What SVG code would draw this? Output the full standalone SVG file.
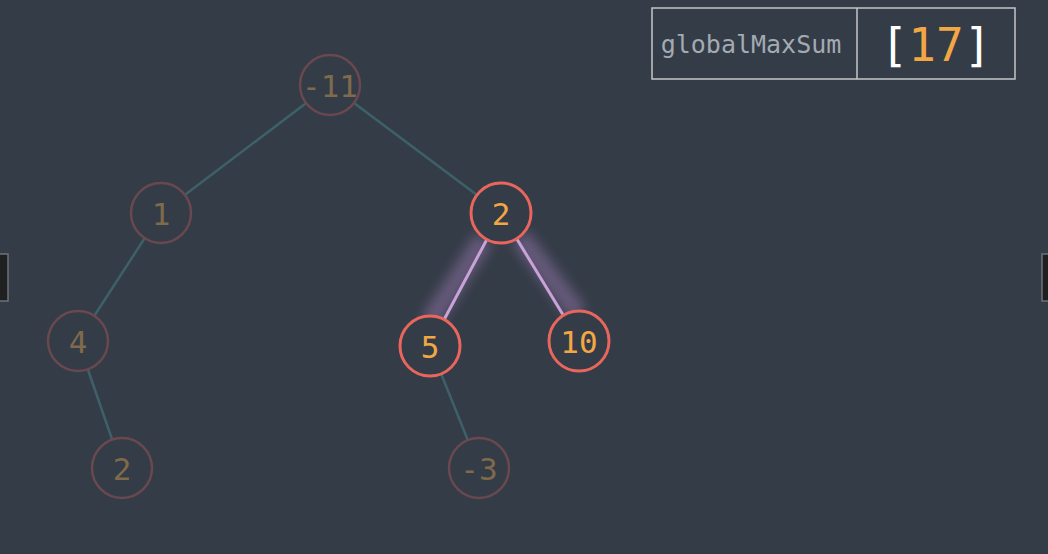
<svg xmlns="http://www.w3.org/2000/svg" width="1048" height="554" viewBox="0 0 1048 554">
<style>
.edge{stroke:#3d6169;stroke-width:2.5;fill:none}
.hl{stroke:#c9a2d8;stroke-width:3;fill:none}
.glow{stroke:#9f7cb8;stroke-width:20;fill:none;opacity:0.45}
.fn circle{fill:#343c47;stroke:#6a4850;stroke-width:2.5}
.fn text{fill:#7f6a4c}
.an circle{fill:#343c47;stroke:#e8665c;stroke-width:3}
.an text{fill:#f3a744}
text{font-family:"DejaVu Sans Mono","Liberation Mono",monospace;text-anchor:middle;dominant-baseline:central}
.nt{font-size:31px}
</style>
<defs>
<filter id="blur" x="-50%" y="-50%" width="200%" height="200%"><feGaussianBlur stdDeviation="6"/></filter>
</defs>
<rect width="1048" height="554" fill="#343c47"/>
<rect x="-4" y="254" width="12" height="47" fill="#1f2022" stroke="#6d7277" stroke-width="1.5"/>
<rect x="1042" y="254" width="12" height="47" fill="#1f2022" stroke="#6d7277" stroke-width="1.5"/>
<g id="connectors">
<line class="edge" x1="330" y1="85" x2="161" y2="213"/>
<line class="edge" x1="330" y1="85" x2="501" y2="213"/>
<line class="edge" x1="161" y1="213" x2="78" y2="341"/>
<line class="edge" x1="78" y1="341" x2="122" y2="468"/>
<line class="edge" x1="430" y1="346" x2="479" y2="468"/>
<g filter="url(#blur)">
<line class="glow" x1="484" y1="239" x2="430" y2="322"/>
<line class="glow" x1="520" y1="237" x2="578" y2="314"/>
</g>
<line class="hl" x1="501" y1="213" x2="430" y2="346"/>
<line class="hl" x1="501" y1="213" x2="579" y2="341"/>
</g>
<g id="n-11" class="fn"><circle cx="330" cy="85" r="30"/><text class="nt" x="330" y="86">-11</text></g>
<g id="n1" class="fn"><circle cx="161" cy="213" r="30"/><text class="nt" x="161" y="214">1</text></g>
<g id="n2" class="an"><circle cx="501" cy="213" r="30"/><text class="nt" x="501" y="214">2</text></g>
<g id="n4" class="fn"><circle cx="78" cy="341" r="30"/><text class="nt" x="78" y="342">4</text></g>
<g id="n5" class="an"><circle cx="430" cy="346" r="30"/><text class="nt" x="430" y="347">5</text></g>
<g id="n10" class="an"><circle cx="579" cy="341" r="30"/><text class="nt" x="579" y="342">10</text></g>
<g id="n2b" class="fn"><circle cx="122" cy="468" r="30"/><text class="nt" x="122" y="469">2</text></g>
<g id="n-3" class="fn"><circle cx="479" cy="468" r="30"/><text class="nt" x="479" y="469">-3</text></g>
<g id="globalMaxSum">
<rect x="652" y="8" width="363" height="71" fill="none" stroke="#c4c6c8" stroke-width="1.5"/>
<line x1="857" y1="8" x2="857" y2="79" stroke="#c4c6c8" stroke-width="1.5"/>
<text x="751" y="44" font-size="25" fill="#a3aab2">globalMaxSum</text>
<text x="936" y="45" font-size="46"><tspan fill="#ffffff">[</tspan><tspan fill="#f3a744">17</tspan><tspan fill="#ffffff">]</tspan></text>
</g>
</svg>
